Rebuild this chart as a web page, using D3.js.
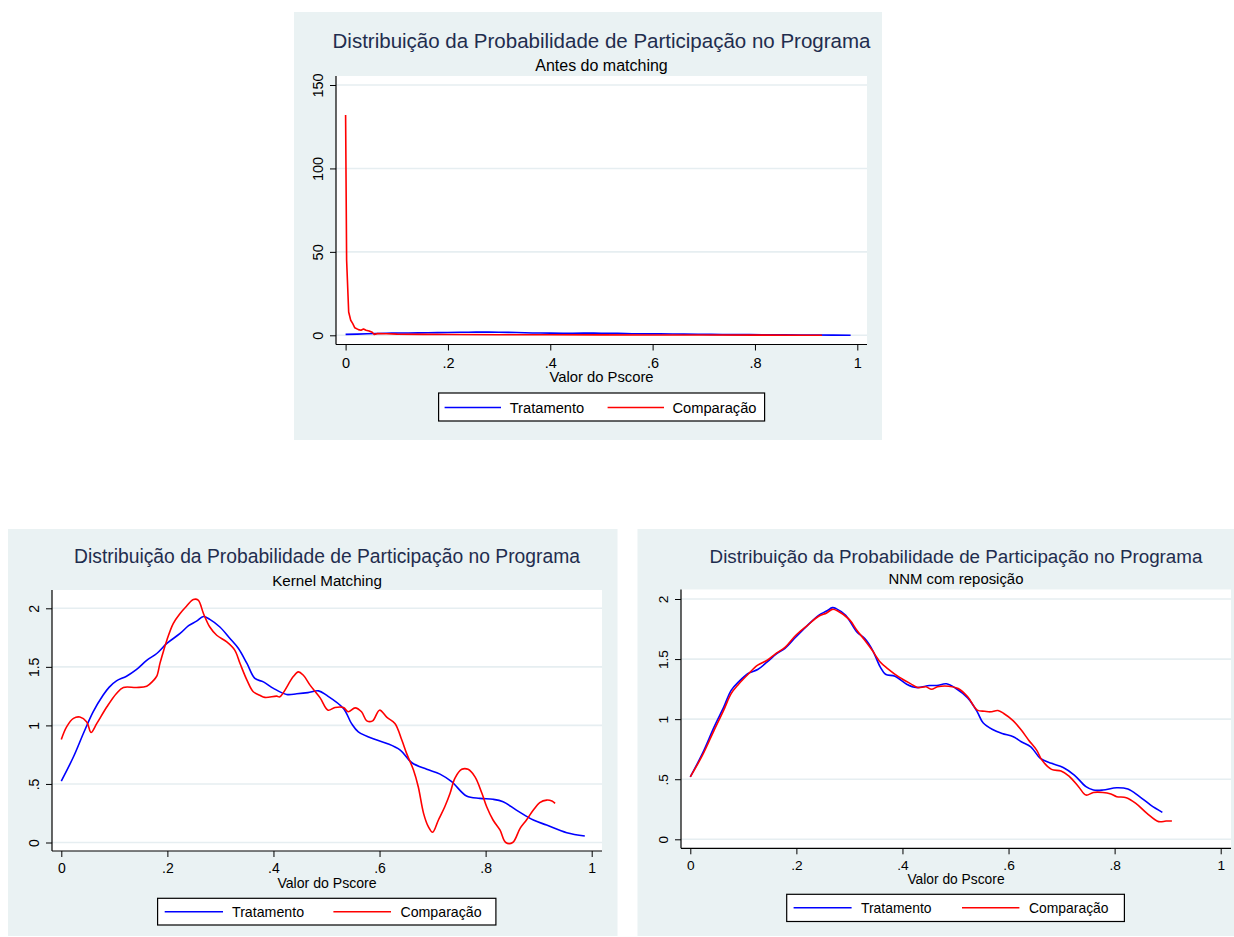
<!DOCTYPE html>
<html>
<head>
<meta charset="utf-8">
<script src="https://cdn.jsdelivr.net/npm/d3@7"></script>
<style>
  html, body { margin: 0; padding: 0; background: #ffffff; }
  svg { display: block; font-family: "Liberation Sans", Arial, Helvetica, sans-serif; }
</style>
</head>
<body>
<svg id="chart" width="1234" height="937"></svg>
<script>
// ---- Tick values and labels ----
const xTicks = [0, 0.2, 0.4, 0.6, 0.8, 1];
const yTicksBefore = [0, 50, 100, 150];
const yTicksMatched = [0, 0.5, 1, 1.5, 2];

const titleText = "Distribuição da Probabilidade de Participação no Programa";
const subtitles = ["Antes do matching", "Kernel Matching", "NNM com reposição"];
const xAxisTitle = "Valor do Pscore";
const legendLabels = ["Tratamento", "Comparação"];

// ---- Densities of the propensity score: [pscore, density] ----
// Treated units (same sample before matching and under kernel matching)
const tratKernel = [
  [0,0.525],[0.023,0.732],[0.042,0.935],[0.06,1.116],[0.079,1.259],[0.09,1.325],[0.104,1.38],
  [0.123,1.42],[0.142,1.478],[0.161,1.555],[0.18,1.614],[0.199,1.7],[0.224,1.785],[0.24,1.852],
  [0.255,1.89],[0.268,1.93],[0.28,1.905],[0.299,1.84],[0.318,1.742],[0.334,1.657],[0.35,1.529],
  [0.365,1.401],[0.381,1.372],[0.4,1.316],[0.425,1.264],[0.444,1.27],[0.465,1.28],[0.485,1.295],
  [0.5,1.258],[0.532,1.145],[0.547,1.017],[0.56,0.945],[0.595,0.875],[0.614,0.846],[0.639,0.789],
  [0.661,0.681],[0.689,0.625],[0.714,0.584],[0.736,0.519],[0.764,0.397],[0.789,0.377],[0.814,0.369],
  [0.833,0.348],[0.858,0.277],[0.89,0.192],[0.915,0.149],[0.953,0.084],[0.987,0.055]
];
const tratBefore = tratKernel;

// Comparison units before matching
const compBefore = [
  [0,132],[0.002,45],[0.006,14],[0.01,9],[0.014,7],[0.018,4.5],[0.025,3.4],[0.03,3.0],
  [0.035,3.8],[0.04,3.0],[0.046,2.6],[0.052,1.8],[0.056,0.5],[0.062,1.0],[0.08,0.9],[0.1,0.7],
  [0.15,0.55],[0.2,0.45],[0.3,0.35],[0.4,0.3],[0.5,0.25],[0.6,0.2],[0.7,0.15],[0.8,0.1],
  [0.9,0.05],[0.931,0.05]
];

// Comparison units after kernel matching
const compKernel = [
  [0,0.88],[0.01,0.988],[0.023,1.06],[0.035,1.071],[0.048,1.03],[0.056,0.94],[0.067,1.017],
  [0.086,1.159],[0.104,1.273],[0.117,1.324],[0.142,1.324],[0.161,1.335],[0.173,1.38],[0.18,1.42],
  [0.186,1.53],[0.193,1.64],[0.199,1.728],[0.211,1.87],[0.224,1.956],[0.236,2.018],[0.249,2.075],
  [0.258,2.07],[0.268,1.956],[0.28,1.84],[0.293,1.77],[0.312,1.713],[0.327,1.643],[0.337,1.529],
  [0.35,1.387],[0.362,1.287],[0.374,1.258],[0.384,1.239],[0.406,1.25],[0.412,1.244],[0.437,1.415],
  [0.447,1.457],[0.456,1.43],[0.469,1.344],[0.488,1.235],[0.503,1.13],[0.516,1.153],[0.532,1.153],
  [0.541,1.116],[0.554,1.15],[0.566,1.116],[0.576,1.039],[0.587,1.039],[0.6,1.13],[0.614,1.068],
  [0.629,1.017],[0.642,0.875],[0.651,0.761],[0.664,0.619],[0.673,0.476],[0.683,0.249],[0.692,0.135],
  [0.7,0.087],[0.711,0.192],[0.723,0.305],[0.733,0.42],[0.742,0.548],[0.755,0.625],[0.767,0.625],
  [0.78,0.561],[0.793,0.42],[0.802,0.305],[0.814,0.192],[0.827,0.107],[0.838,0.0],[0.851,0.0],
  [0.865,0.121],[0.877,0.192],[0.89,0.277],[0.902,0.34],[0.915,0.362],[0.925,0.354],[0.931,0.334]
];

// Treated units under nearest-neighbour matching with replacement
const tratNNM = [
  [0,0.52],[0.023,0.715],[0.045,0.936],[0.063,1.10],[0.077,1.24],[0.091,1.31],[0.109,1.38],
  [0.127,1.413],[0.145,1.476],[0.163,1.546],[0.178,1.587],[0.199,1.684],[0.221,1.781],[0.242,1.864],
  [0.257,1.9],[0.268,1.928],[0.275,1.92],[0.293,1.864],[0.314,1.726],[0.329,1.67],[0.343,1.579],
  [0.358,1.435],[0.368,1.374],[0.386,1.357],[0.408,1.291],[0.426,1.263],[0.451,1.28],[0.465,1.28],
  [0.483,1.294],[0.501,1.255],[0.523,1.177],[0.541,1.061],[0.552,0.97],[0.57,0.914],[0.588,0.881],
  [0.609,0.853],[0.624,0.812],[0.642,0.77],[0.66,0.673],[0.681,0.632],[0.703,0.598],[0.724,0.535],
  [0.746,0.438],[0.76,0.41],[0.778,0.41],[0.804,0.429],[0.825,0.418],[0.847,0.355],[0.868,0.285],
  [0.89,0.224]
];

// Comparison units under nearest-neighbour matching with replacement
const compNNM = [
  [0,0.52],[0.023,0.70],[0.045,0.909],[0.063,1.075],[0.077,1.213],[0.091,1.291],[0.109,1.374],
  [0.127,1.449],[0.145,1.49],[0.163,1.551],[0.178,1.596],[0.199,1.698],[0.221,1.781],[0.242,1.856],
  [0.257,1.884],[0.268,1.914],[0.278,1.90],[0.3,1.828],[0.314,1.74],[0.329,1.657],[0.343,1.573],
  [0.358,1.476],[0.372,1.421],[0.393,1.352],[0.415,1.296],[0.429,1.263],[0.444,1.269],[0.455,1.249],
  [0.466,1.269],[0.487,1.274],[0.505,1.255],[0.523,1.186],[0.541,1.075],[0.555,1.066],[0.566,1.061],
  [0.58,1.072],[0.591,1.047],[0.609,0.986],[0.624,0.909],[0.638,0.825],[0.653,0.742],[0.663,0.659],
  [0.681,0.582],[0.699,0.568],[0.714,0.526],[0.732,0.438],[0.746,0.368],[0.76,0.39],[0.778,0.39],
  [0.793,0.377],[0.804,0.355],[0.822,0.346],[0.84,0.299],[0.861,0.216],[0.883,0.147],[0.897,0.152],
  [0.908,0.152]
];

// ---- Styling ----
const COLORS = { trat: "#0000ff", comp: "#ff0000", bg: "#eaf2f3", grid: "#e6eef1", title: "#1f2d4e" };

// ---- Panel layout ----
const panels = [
  {
    bg: [294, 12, 882, 440], plot: [336, 76, 867, 344.5],
    xRange: [345.6, 857.3], yDomain: [0, 150], yRange: [335.3, 85], yTicks: yTicksBefore,
    subtitle: subtitles[0], curve: d3.curveLinear,
    series: [tratBefore, compBefore],
    font: { title: 20.5, sub: 16, tick: 14.5, axis: 14.8, legend: 14.7 },
    titleY: 47.7, subY: 71, tickLabelDy: 23, axisTitleDy: 37.6,
    legend: { box: [438.6, 393, 764.6, 421], keyY: 407.5, lines: [[444.6, 501], [607.6, 664]], text: [509.7, 672.4] }
  },
  {
    bg: [8, 529, 617.5, 936], plot: [52, 590, 602, 851],
    xRange: [61.3, 591.7], yDomain: [0, 2], yRange: [842.5, 608.3], yTicks: yTicksMatched,
    subtitle: subtitles[1], curve: d3.curveCatmullRom.alpha(0.5),
    series: [tratKernel, compKernel],
    font: { title: 19.3, sub: 15.2, tick: 14, axis: 14.1, legend: 14.2 },
    titleY: 562.5, subY: 585.5, tickLabelDy: 22, axisTitleDy: 36.8,
    legend: { box: [157.6, 898.3, 495.9, 925], keyY: 911.7, lines: [[164.7, 223], [333.4, 391]], text: [232, 400.4] }
  },
  {
    bg: [637.5, 529, 1234, 936], plot: [681, 589.5, 1231, 848.3],
    xRange: [690.3, 1220.7], yDomain: [0, 2], yRange: [839.3, 599], yTicks: yTicksMatched,
    subtitle: subtitles[2], curve: d3.curveCatmullRom.alpha(0.5),
    series: [tratNNM, compNNM],
    font: { title: 18.8, sub: 14.9, tick: 13.7, axis: 13.8, legend: 13.9 },
    titleY: 562.5, subY: 584, tickLabelDy: 21.5, axisTitleDy: 35.7,
    legend: { box: [786.7, 894.3, 1124.4, 921.5], keyY: 907.7, lines: [[793.6, 851.6], [962, 1019.4]], text: [861, 1029] }
  }
];

const fmt = d => (d === 0 ? "0" : String(d).replace(/^0\./, "."));
const svg = d3.select("#chart");
const seriesColors = [COLORS.trat, COLORS.comp];

panels.forEach(p => {
  const g = svg.append("g");
  const [bx0, by0, bx1, by1] = p.bg;
  const [px0, py0, px1, py1] = p.plot;
  const cx = (px0 + px1) / 2;

  // graph region and plot region
  g.append("rect").attr("x", bx0).attr("y", by0).attr("width", bx1 - bx0).attr("height", by1 - by0)
    .attr("fill", COLORS.bg);
  g.append("rect").attr("x", px0).attr("y", py0).attr("width", px1 - px0).attr("height", py1 - py0)
    .attr("fill", "#ffffff");

  const x = d3.scaleLinear().domain([0, 1]).range(p.xRange);
  const y = d3.scaleLinear().domain(p.yDomain).range(p.yRange);

  // horizontal gridlines
  g.append("g").selectAll("line").data(p.yTicks).join("line")
    .attr("x1", px0).attr("x2", px1)
    .attr("y1", d => y(d)).attr("y2", d => y(d))
    .attr("stroke", COLORS.grid).attr("stroke-width", 1.6);

  // density curves
  const line = d3.line().x(d => x(d[0])).y(d => y(d[1])).curve(p.curve);
  p.series.forEach((s, i) => {
    g.append("path").datum(s).attr("d", line)
      .attr("fill", "none").attr("stroke", seriesColors[i])
      .attr("stroke-width", 1.6).attr("stroke-linejoin", "round");
  });

  // y axis
  const yAxis = g.append("g").attr("transform", `translate(${px0},0)`)
    .call(d3.axisLeft(y).tickValues(p.yTicks).tickFormat(fmt).tickSize(6).tickPadding(0));
  yAxis.select(".domain").remove();
  yAxis.selectAll(".tick line").attr("stroke", "#000");
  yAxis.selectAll(".tick text")
    .attr("transform", "rotate(-90)").attr("x", 0).attr("y", -13).attr("dy", null)
    .attr("text-anchor", "middle").attr("fill", "#000")
    .style("font-size", p.font.tick + "px").style("font-family", "inherit");
  g.append("line").attr("x1", px0).attr("x2", px0).attr("y1", py0).attr("y2", py1)
    .attr("stroke", "#000").attr("stroke-width", 1.2);

  // x axis
  const xAxis = g.append("g").attr("transform", `translate(0,${py1})`)
    .call(d3.axisBottom(x).tickValues(xTicks).tickFormat(fmt).tickSize(6).tickPadding(0));
  xAxis.select(".domain").remove();
  xAxis.selectAll(".tick line").attr("stroke", "#000");
  xAxis.selectAll(".tick text")
    .attr("y", p.tickLabelDy).attr("dy", null).attr("fill", "#000")
    .style("font-size", p.font.tick + "px").style("font-family", "inherit");
  g.append("line").attr("x1", px0).attr("x2", px1).attr("y1", py1).attr("y2", py1)
    .attr("stroke", "#000").attr("stroke-width", 1.2);

  // titles
  g.append("text").attr("x", cx).attr("y", p.titleY).attr("text-anchor", "middle")
    .attr("fill", COLORS.title).style("font-size", p.font.title + "px").text(titleText);
  g.append("text").attr("x", cx).attr("y", p.subY).attr("text-anchor", "middle")
    .attr("fill", "#000").style("font-size", p.font.sub + "px").text(p.subtitle);
  g.append("text").attr("x", cx).attr("y", py1 + p.axisTitleDy).attr("text-anchor", "middle")
    .attr("fill", "#000").style("font-size", p.font.axis + "px").text(xAxisTitle);

  // legend
  const L = p.legend;
  g.append("rect").attr("x", L.box[0]).attr("y", L.box[1])
    .attr("width", L.box[2] - L.box[0]).attr("height", L.box[3] - L.box[1])
    .attr("fill", "#ffffff").attr("stroke", "#000").attr("stroke-width", 1.2);
  legendLabels.forEach((lab, i) => {
    g.append("line").attr("x1", L.lines[i][0]).attr("x2", L.lines[i][1])
      .attr("y1", L.keyY).attr("y2", L.keyY)
      .attr("stroke", seriesColors[i]).attr("stroke-width", 1.6);
    g.append("text").attr("x", L.text[i]).attr("y", L.keyY + 5)
      .attr("fill", "#000").style("font-size", p.font.legend + "px").text(lab);
  });
});
</script>
</body>
</html>
